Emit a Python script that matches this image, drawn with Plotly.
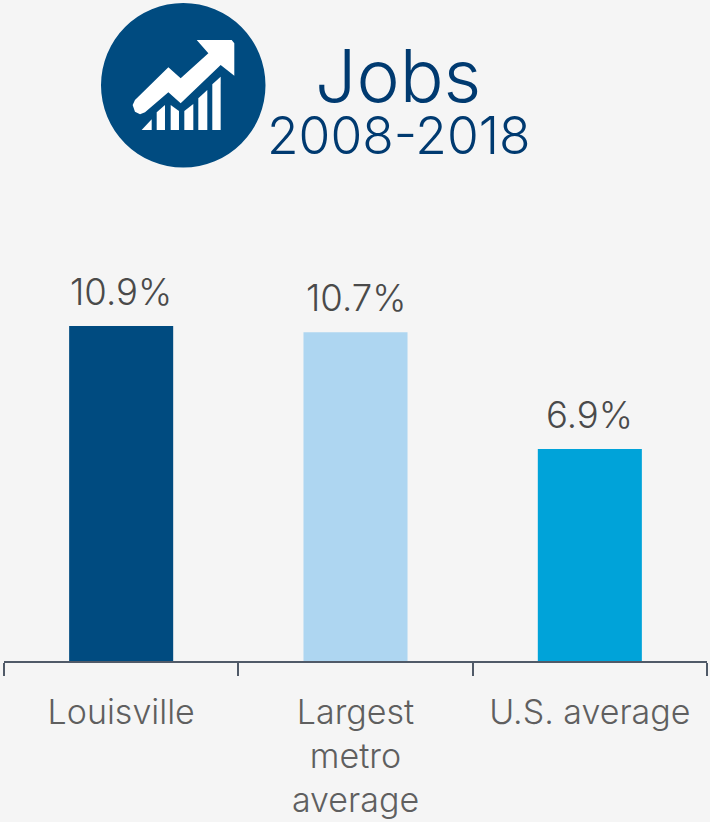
import plotly.graph_objects as go

categories = ["Louisville", "Largest<br>metro<br>average", "U.S. average"]
values = [10.9, 10.7, 6.9]
value_labels = ["10.9%", "10.7%", "6.9%"]
bar_colors = ["#004b80", "#aed6f1", "#00a3d9"]
title_main = "Jobs"
title_sub = "2008-2018"

W, H = 710, 822
ML, MR, MB = 4, 3, 161
PW, PH = W - ML - MR, H - MB
FONT = "Inter"
NAVY = "#004b80"
TITLE = "#003a70"

def X(p):
    return (p - ML) / PW

def Y(p):
    return 1 - p / PH

def zoom_path(points):
    s = ""
    for i, (zx, zy) in enumerate(points):
        s += ("M" if i == 0 else "L") + f"{X(90 + zx / 3):.4f},{Y(5 + zy / 3):.4f} "
    return s + "Z"

arrow = [(128, 300), (135, 285), (235, 187), (272, 220), (355, 145), (320, 105),
         (425, 105), (433, 115), (433, 212), (392, 180), (272, 295), (235, 262),
         (165, 322), (150, 328), (135, 320)]
icon_bars = [
    [(155, 375), (185, 375), (185, 343)],
    [(200, 375), (225, 375), (225, 300), (200, 322)],
    [(242, 375), (267, 375), (267, 318), (242, 300)],
    [(283, 375), (310, 375), (310, 297), (283, 318)],
    [(325, 375), (352, 375), (352, 255), (325, 280)],
    [(367, 375), (392, 375), (392, 215), (367, 238)],
]

shapes = [dict(type="circle", xref="paper", yref="paper", layer="above",
               x0=X(101), x1=X(265.5), y0=Y(167.5), y1=Y(3),
               fillcolor=NAVY, line=dict(width=0))]
for pts in [arrow] + icon_bars:
    shapes.append(dict(type="path", xref="paper", yref="paper", layer="above",
                       path=zoom_path(pts), fillcolor="#ffffff", line=dict(width=0)))

fig = go.Figure(go.Bar(
    x=categories, y=values, width=0.444,
    marker=dict(color=bar_colors, line=dict(width=0)),
    hoverinfo="skip",
))

annotations = [
    dict(text=title_main, xref="paper", yref="paper", x=X(398), y=Y(75),
         xanchor="center", yanchor="middle", showarrow=False,
         font=dict(family=FONT, size=73, color=TITLE, weight=300)),
    dict(text=title_sub, xref="paper", yref="paper", x=X(398), y=Y(135),
         xanchor="center", yanchor="middle", showarrow=False,
         font=dict(family=FONT, size=51.5, color=TITLE, weight=300)),
]
for c, v, t in zip(categories, values, value_labels):
    annotations.append(dict(text=t, x=c, y=v, xref="x", yref="y", xanchor="center",
                            yanchor="bottom", yshift=10, showarrow=False,
                            font=dict(family=FONT, size=36.5, color="#4a4a4a", weight=300)))

fig.update_layout(
    width=W, height=H, autosize=False,
    margin=dict(l=ML, r=MR, t=0, b=MB),
    paper_bgcolor="#f5f5f5", plot_bgcolor="#f5f5f5",
    showlegend=False, shapes=shapes, annotations=annotations,
    xaxis=dict(type="category", tickson="boundaries", ticks="outside", ticklen=13,
               tickwidth=2, tickcolor="#505a68", showline=True, linecolor="#505a68",
               linewidth=2, showgrid=False, zeroline=False, tickangle=0,
               automargin=False, ticklabelstandoff=20,
               tickfont=dict(family=FONT, size=34, color="#5f5f5f", weight=300)),
    yaxis=dict(range=[0, 21.51], visible=False, showgrid=False, zeroline=False,
               automargin=False),
)

fig.write_html("out.html", config=dict(displayModeBar=False),
               post_script="document.body.style.margin='0';document.body.style.background='#f5f5f5';")
